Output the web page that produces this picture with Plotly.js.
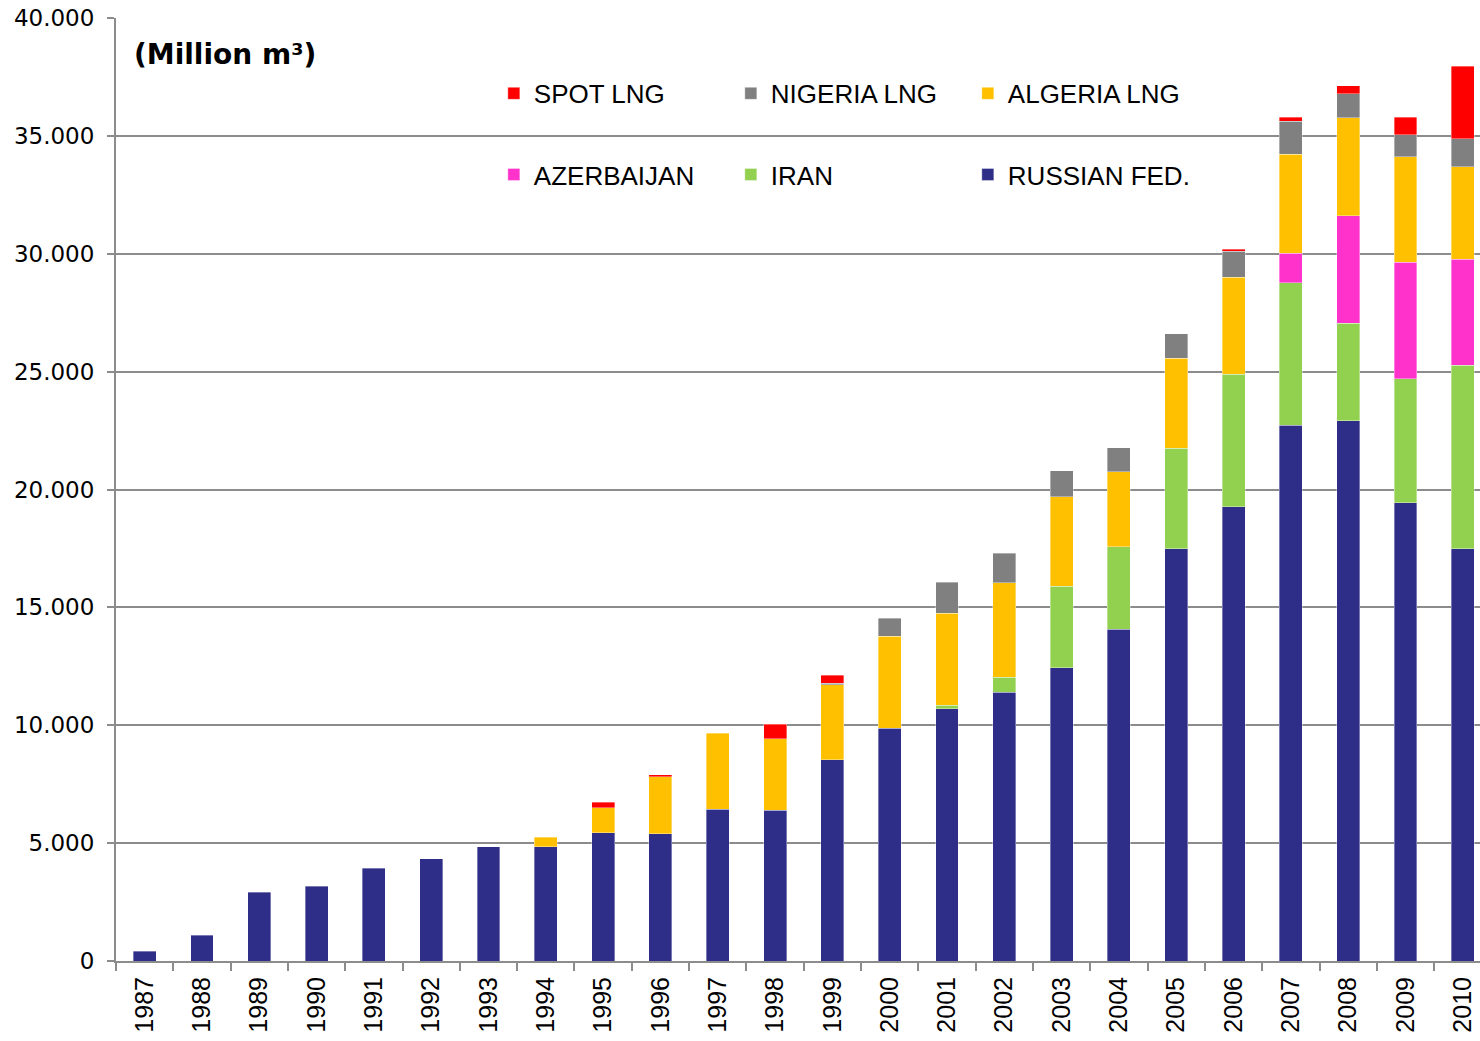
<!DOCTYPE html>
<html>
<head>
<meta charset="utf-8">
<script src="https://cdn.plot.ly/plotly-3.0.1.min.js"></script>
<style>html,body{margin:0;padding:0;background:#fff;}#chart{width:1480px;height:1041px;}</style>
</head>
<body>
<div id="chart"></div>
<script>
const years = ["1987","1988","1989","1990","1991","1992","1993","1994","1995","1996","1997","1998","1999","2000","2001","2002","2003","2004","2005","2006","2007","2008","2009","2010"];
const russianFed = [420,1100,2910,3180,3930,4330,4850,4850,5440,5400,6430,6400,8530,9870,10710,11390,12430,14080,17490,19270,22720,22920,19440,17490];
const iran       = [null,null,null,null,null,null,null,null,null,null,null,null,null,null,130,650,3460,3490,4250,5620,6040,4130,5250,7790];
const azerbaijan = [null,null,null,null,null,null,null,null,null,null,null,null,null,null,null,null,null,null,null,null,1260,4560,4950,4480];
const algeriaLng = [null,null,null,null,null,null,null,410,1060,2420,3240,3020,3180,3910,3910,4010,3810,3180,3830,4120,4210,4160,4480,3920];
const nigeriaLng = [null,null,null,null,null,null,null,null,null,null,null,null,70,760,1310,1250,1100,1020,1030,1090,1400,1010,920,1190];
const spotLng    = [null,null,null,null,null,null,null,null,230,70,null,620,350,null,null,null,null,null,null,90,170,340,760,3080];

const seriesNames = ["RUSSIAN FED.","IRAN","AZERBAIJAN","ALGERIA LNG","NIGERIA LNG","SPOT LNG"];
const seriesColors = ["#2E2D87","#92D050","#FF33CC","#FFC000","#808080","#FF0000"];
const seriesData = [russianFed, iran, azerbaijan, algeriaLng, nigeriaLng, spotLng];
const seriesLegend = ["legend2","legend2","legend2","legend","legend","legend"];

const traces = seriesData.map((vals, i) => ({
  type: "bar",
  name: seriesNames[i],
  x: years,
  y: vals,
  legend: seriesLegend[i],
  marker: {color: seriesColors[i], line: {width: 0.8, color: "rgba(255,255,255,0.45)"}},
  hoverinfo: "x+y+name"
}));

const legendFont = {family: "Liberation Sans, Arial, sans-serif", size: 26, color: "#000"};

const layout = {
  width: 1480,
  height: 1041,
  margin: {l: 116, r: 0, t: 18, b: 80, pad: 0},
  paper_bgcolor: "#fff",
  plot_bgcolor: "#fff",
  barmode: "stack",
  bargap: 0.6,
  separators: ",.",
  showlegend: true,
  xaxis: {
    type: "category",
    range: [-0.5, 23.3],
    showgrid: false,
    showline: true,
    linecolor: "#8c8c8c",
    linewidth: 2,
    ticks: "outside",
    tickson: "boundaries",
    ticklen: 8,
    tickwidth: 2,
    tickcolor: "#8c8c8c",
    tickangle: -90,
    ticklabelstandoff: 4,
    tickfont: {family: "Liberation Sans, Arial, sans-serif", size: 25, color: "#000"},
    zeroline: false,
    fixedrange: true
  },
  yaxis: {
    range: [0, 40000],
    dtick: 5000,
    tick0: 0,
    showgrid: true,
    gridcolor: "#8c8c8c",
    gridwidth: 2,
    showline: true,
    linecolor: "#8c8c8c",
    linewidth: 2,
    ticks: "outside",
    ticklen: 7,
    tickwidth: 2,
    tickcolor: "#8c8c8c",
    separatethousands: true,
    tickformat: ",d",
    ticklabelstandoff: 8,
    tickfont: {family: "DejaVu Sans, Verdana, sans-serif", size: 23, color: "#000"},
    zeroline: false,
    fixedrange: true
  },
  legend: {
    orientation: "h",
    traceorder: "reversed",
    x: 0.277, xanchor: "left",
    y: 0.92, yanchor: "middle",
    entrywidth: 192,
    entrywidthmode: "pixels",
    itemwidth: 30,
    font: legendFont,
    bgcolor: "rgba(0,0,0,0)"
  },
  legend2: {
    orientation: "h",
    traceorder: "reversed",
    x: 0.277, xanchor: "left",
    y: 0.834, yanchor: "middle",
    entrywidth: 192,
    entrywidthmode: "pixels",
    itemwidth: 30,
    font: legendFont,
    bgcolor: "rgba(0,0,0,0)"
  },
  annotations: [{
    text: "<b>(Million m³)</b>",
    xref: "paper", yref: "paper",
    x: 0.012, y: 0.961,
    xanchor: "left", yanchor: "middle",
    showarrow: false,
    font: {family: "DejaVu Sans, Verdana, sans-serif", size: 28, color: "#000"}
  }]
};

Plotly.newPlot("chart", traces, layout, {displayModeBar: false, staticPlot: true});
</script>
</body>
</html>
